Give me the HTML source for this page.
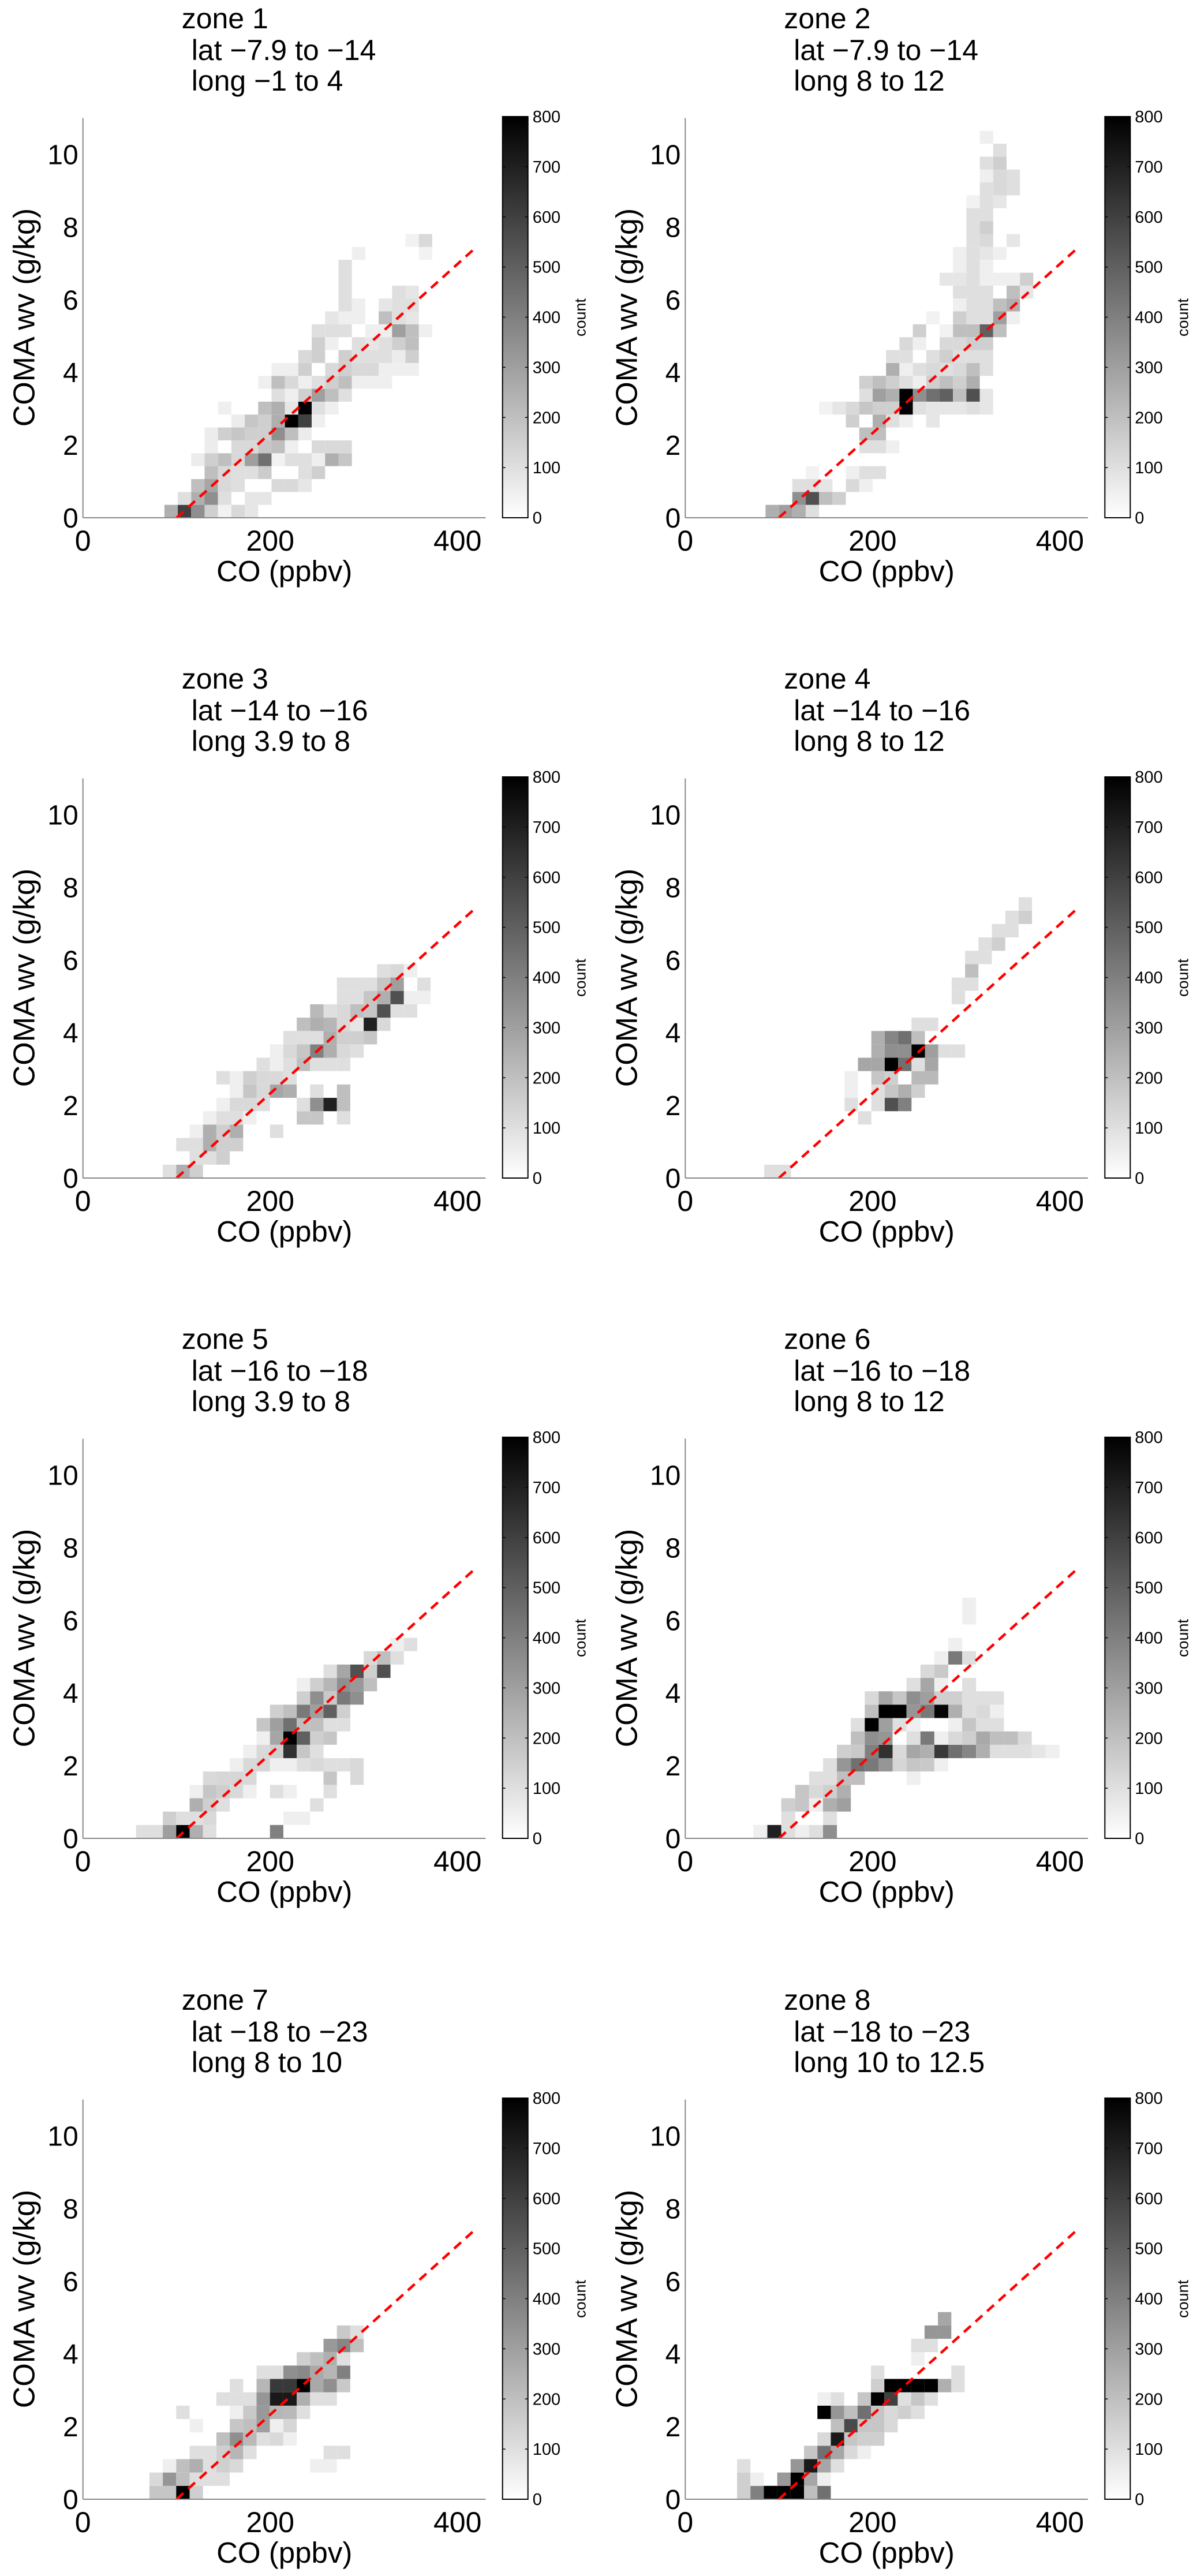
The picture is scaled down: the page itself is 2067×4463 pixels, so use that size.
<!DOCTYPE html>
<html><head><meta charset="utf-8"><title>COMA wv vs CO by zone</title>
<style>
html,body{margin:0;padding:0;background:#fff;}
svg{display:block;font-family:"Liberation Sans",Arial,sans-serif;}
</style></head>
<body>
<svg id="fig" width="2067" height="4463" viewBox="0 0 2067 4463" xmlns="http://www.w3.org/2000/svg">
<defs>
<linearGradient id="cbgrad" x1="0" y1="1" x2="0" y2="0">
<stop offset="0" stop-color="#ffffff"/><stop offset="1" stop-color="#000000"/>
</linearGradient>
</defs>
</svg>
<script>
// ---- data ----
const zoneTitles = ["zone 1","zone 2","zone 3","zone 4","zone 5","zone 6","zone 7","zone 8"];
const latLabels = ["lat \u22127.9 to \u221214","lat \u22127.9 to \u221214","lat \u221214 to \u221216","lat \u221214 to \u221216","lat \u221216 to \u221218","lat \u221216 to \u221218","lat \u221218 to \u221223","lat \u221218 to \u221223"];
const longLabels = ["long \u22121 to 4","long 8 to 12","long 3.9 to 8","long 8 to 12","long 3.9 to 8","long 8 to 12","long 8 to 10","long 10 to 12.5"];
const xTicks = [0,200,400];
const yTicks = [0,2,4,6,8,10];
const cbTicks = [0,100,200,300,400,500,600,700,800];
const binX0 = [87,85.7,85.3,84.3,85.3,72.8,85.3,83.9];
const binDX = [14.3,14.3,14.3,14.3,14.3,14.86,14.3,14.3];
const binDY = [0.355,0.355,0.368,0.368,0.368,0.368,0.368,0.368];
const fitLineX = [100,420];
const fitLineY = [0,7.45];
// cells: [column, row, count]
const zone1Cells = [[0,0,250],[1,0,600],[2,0,350],[3,0,150],[4,0,40],[5,0,120],[6,0,80],
[1,1,100],[2,1,250],[3,1,350],[4,1,100],[6,1,80],[7,1,80],
[2,2,200],[3,2,280],[4,2,120],[5,2,100],[8,2,120],[9,2,120],[10,2,80],
[3,3,200],[4,3,120],[5,3,100],[6,3,100],[7,3,160],[10,3,100],[11,3,150],
[2,4,60],[3,4,150],[4,4,200],[5,4,120],[6,4,300],[7,4,450],[8,4,40],[9,4,100],[10,4,100],[11,4,50],[12,4,250],[13,4,180],
[3,5,60],[5,5,120],[6,5,120],[7,5,180],[8,5,200],[9,5,50],[11,5,120],[12,5,120],[13,5,120],
[3,6,60],[4,6,150],[5,6,180],[6,6,150],[7,6,150],[8,6,350],[9,6,200],[10,6,60],
[5,7,60],[6,7,180],[7,7,150],[8,7,250],[9,7,800],[10,7,600],[11,7,50],
[4,8,50],[7,8,200],[8,8,250],[9,8,80],[10,8,800],[11,8,100],[12,8,50],
[8,9,100],[9,9,50],[10,9,150],[11,9,300],[12,9,200],[13,9,100],
[7,10,50],[8,10,200],[9,10,120],[10,10,50],[11,10,100],[12,10,150],[13,10,200],[14,10,50],[15,10,50],[16,10,50],
[8,11,50],[9,11,50],[10,11,150],[12,11,120],[13,11,150],[14,11,120],[15,11,120],[16,11,50],[17,11,50],[18,11,50],
[10,12,120],[11,12,150],[13,12,150],[14,12,100],[15,12,100],[16,12,100],[17,12,60],[18,12,150],
[11,13,150],[12,13,50],[14,13,100],[15,13,80],[16,13,100],[17,13,150],[18,13,200],
[11,14,100],[12,14,100],[13,14,100],[15,14,50],[16,14,50],[17,14,300],[18,14,200],[19,14,50],
[12,15,80],[13,15,50],[14,15,50],[16,15,200],[17,15,100],[18,15,80],
[13,16,100],[14,16,50],[16,16,80],[17,16,100],[18,16,100],
[13,17,100],[17,17,100],[18,17,80],[13,18,100],[13,19,100],[14,20,50],[19,20,40],[18,21,40],[19,21,120]];
const zone2Cells = [[0,0,250],[1,0,300],[2,0,250],[3,0,100],
[2,1,350],[3,1,550],[4,1,200],[5,1,150],
[2,2,100],[3,2,100],[4,2,80],[6,2,120],[7,2,50],
[3,3,40],[6,3,50],[7,3,100],[8,3,100],
[7,5,100],[8,5,100],[9,5,50],[7,6,200],[8,6,200],
[6,7,150],[8,7,250],[9,7,100],[10,7,50],[12,7,80],
[4,8,40],[5,8,80],[6,8,120],[7,8,180],[8,8,150],[9,8,150],[10,8,800],[11,8,100],[12,8,80],[13,8,80],[14,8,80],[15,8,100],[16,8,80],
[7,9,100],[8,9,300],[9,9,250],[10,9,800],[11,9,350],[12,9,450],[13,9,500],[14,9,200],[15,9,550],[16,9,80],
[7,10,150],[8,10,200],[9,10,150],[10,10,100],[11,10,50],[12,10,150],[13,10,200],[14,10,150],[15,10,250],
[9,11,250],[10,11,50],[11,11,100],[12,11,120],[13,11,100],[14,11,120],[15,11,200],[16,11,100],
[9,12,100],[10,12,100],[12,12,100],[13,12,150],[14,12,100],[15,12,100],[16,12,100],
[10,13,120],[11,13,50],[13,13,120],[14,13,120],[15,13,150],[16,13,150],
[11,14,150],[13,14,40],[14,14,200],[15,14,200],[16,14,500],[17,14,200],
[12,15,40],[14,15,150],[15,15,100],[16,15,100],[17,15,300],[18,15,50],
[14,16,50],[15,16,100],[16,16,100],[17,16,200],[18,16,250],
[14,17,100],[15,17,100],[16,17,100],[18,17,200],[19,17,80],
[13,18,80],[14,18,80],[15,18,100],[16,18,50],[17,18,50],[18,18,50],[19,18,150],
[14,19,50],[15,19,100],[16,19,50],[14,20,50],[15,20,100],[16,20,80],[17,20,50],
[15,21,100],[16,21,120],[18,21,80],[15,22,100],[16,22,150],[15,23,100],[16,23,100],
[15,24,40],[16,24,100],[17,24,80],[16,25,100],[17,25,120],[18,25,100],
[16,26,50],[17,26,120],[18,26,100],[16,27,100],[17,27,150],[17,28,100],[16,29,50]];
const zone3Cells = [[0,0,100],[1,0,250],[2,0,150],
[2,1,100],[3,1,100],[4,1,150],
[1,2,100],[2,2,100],[3,2,250],[4,2,150],[5,2,150],
[2,3,50],[3,3,250],[4,3,150],[5,3,250],[8,3,100],
[3,4,50],[4,4,100],[5,4,100],[6,4,50],[10,4,180],[11,4,180],[13,4,100],
[4,5,50],[5,5,120],[6,5,120],[7,5,100],[10,5,100],[11,5,350],[12,5,700],[13,5,200],
[5,6,50],[6,6,180],[7,6,120],[8,6,280],[9,6,250],[11,6,100],[13,6,200],
[4,7,100],[5,7,50],[6,7,150],[7,7,120],[8,7,120],[9,7,100],
[7,8,100],[8,8,50],[9,8,100],[10,8,200],[11,8,100],[12,8,100],[13,8,100],
[8,9,50],[9,9,120],[10,9,180],[11,9,400],[12,9,250],[13,9,120],[14,9,100],
[9,10,100],[10,10,100],[11,10,100],[12,10,250],[13,10,150],[14,10,150],[15,10,180],
[10,11,200],[11,11,250],[12,11,230],[13,11,120],[14,11,80],[15,11,700],[16,11,120],
[11,12,220],[12,12,100],[13,12,120],[14,12,200],[15,12,180],[16,12,550],[17,12,100],[18,12,100],
[13,13,100],[14,13,100],[15,13,180],[16,13,250],[17,13,550],[18,13,50],[19,13,50],
[13,14,100],[14,14,100],[15,14,100],[16,14,180],[17,14,300],[19,14,100],
[16,15,100],[17,15,120],[18,15,50]];
const zone4Cells = [[0,0,100],[1,0,100],[7,4,100],
[6,5,100],[8,5,100],[9,5,550],[10,5,400],
[6,6,50],[8,6,100],[9,6,180],[10,6,250],[11,6,150],
[6,7,50],[8,7,180],[9,7,150],[11,7,220],[12,7,220],
[7,8,280],[8,8,280],[9,8,800],[10,8,450],[11,8,100],[12,8,280],
[8,9,250],[9,9,350],[10,9,350],[11,9,800],[12,9,300],[13,9,100],[14,9,100],
[8,10,250],[9,10,380],[10,10,450],[11,10,200],
[11,11,100],[12,11,100],[14,13,100],[14,14,100],[15,14,100],[15,15,200],
[15,16,100],[16,16,100],[16,17,100],[17,17,150],[17,18,100],[18,18,100],
[18,19,100],[19,19,150],[19,20,100]];
const zone5Cells = [[-2,0,100],[-1,0,100],[0,0,300],[1,0,800],[2,0,250],[3,0,100],[8,0,400],
[0,1,150],[1,1,100],[2,1,100],[3,1,120],[9,1,50],[10,1,50],
[2,2,250],[3,2,150],[4,2,100],[11,2,100],
[2,3,50],[3,3,180],[4,3,150],[5,3,120],[6,3,50],[8,3,100],[9,3,50],[12,3,100],
[3,4,120],[4,4,130],[5,4,130],[6,4,120],[12,4,180],[14,4,120],
[5,5,50],[6,5,120],[7,5,130],[8,5,50],[9,5,50],[10,5,100],[11,5,120],[12,5,100],[13,5,100],[14,5,120],
[6,6,50],[7,6,120],[8,6,150],[9,6,650],[10,6,180],[11,6,100],
[7,7,50],[8,7,280],[9,7,800],[10,7,500],[11,7,150],[12,7,180],
[7,8,180],[8,8,300],[9,8,450],[10,8,200],[11,8,200],[12,8,100],[13,8,100],
[8,9,150],[9,9,200],[10,9,420],[11,9,300],[12,9,500],[13,9,150],
[10,10,150],[11,10,350],[12,10,170],[13,10,420],[14,10,350],
[10,11,50],[11,11,150],[12,11,230],[13,11,350],[14,11,320],[15,11,200],
[12,12,100],[13,12,280],[14,12,550],[15,12,150],[16,12,550],
[15,13,120],[16,13,200],[17,13,100],[17,14,50],[18,14,100]];
const zone6Cells = [[0,0,50],[1,0,700],[2,0,100],[3,0,50],[4,0,100],[5,0,350],
[2,1,100],[5,1,100],
[2,2,150],[3,2,180],[4,2,50],[5,2,250],[6,2,300],
[3,3,180],[4,3,120],[5,3,150],[6,3,250],
[4,4,100],[5,4,100],[6,4,200],[7,4,200],[11,4,50],
[5,5,100],[6,5,330],[7,5,450],[8,5,420],[9,5,330],[10,5,130],[11,5,180],[12,5,170],[13,5,50],
[6,6,150],[7,6,170],[8,6,400],[9,6,650],[10,6,120],[11,6,280],[12,6,250],[13,6,620],[14,6,450],[15,6,380],[16,6,250],[17,6,100],[18,6,100],[19,6,100],[20,6,80],[21,6,50],
[7,7,200],[8,7,350],[9,7,330],[11,7,100],[12,7,420],[13,7,50],[14,7,120],[15,7,150],[16,7,270],[17,7,200],[18,7,200],[19,7,120],
[7,8,100],[8,8,800],[9,8,300],[10,8,100],[11,8,50],[14,8,50],[15,8,180],[16,8,100],[17,8,100],
[8,9,200],[9,9,800],[10,9,800],[11,9,330],[12,9,420],[13,9,780],[14,9,250],[15,9,100],[16,9,120],[17,9,50],
[8,10,120],[9,10,280],[10,10,180],[11,10,350],[12,10,300],[13,10,150],[14,10,150],[15,10,100],[16,10,100],[17,10,100],
[11,11,100],[12,11,280],[13,11,50],[15,11,100],
[12,12,120],[13,12,170],[13,13,50],[14,13,420],[15,13,100],[14,14,50],[15,16,50],[15,17,50]];
const zone7Cells = [[-1,0,180],[0,0,180],[1,0,800],[2,0,150],
[-1,1,120],[0,1,330],[1,1,200],[2,1,100],[3,1,100],[4,1,100],
[0,2,50],[1,2,200],[2,2,250],[3,2,100],[4,2,150],[5,2,120],[11,2,50],[12,2,50],
[2,3,100],[3,3,100],[4,3,150],[5,3,230],[6,3,100],[12,3,100],[13,3,100],
[4,4,200],[5,4,350],[6,4,220],[7,4,100],[8,4,120],[9,4,50],
[2,5,50],[5,5,180],[6,5,200],[7,5,300],[8,5,50],[9,5,130],
[1,6,100],[5,6,50],[6,6,170],[7,6,320],[8,6,230],[9,6,220],[10,6,100],
[4,7,100],[5,7,100],[6,7,100],[7,7,330],[8,7,720],[9,7,720],[10,7,250],[11,7,100],[12,7,100],
[5,8,100],[7,8,230],[8,8,620],[9,8,620],[10,8,800],[11,8,270],[12,8,350],[13,8,170],
[7,9,100],[8,9,100],[9,9,350],[10,9,370],[11,9,270],[12,9,230],[13,9,400],
[10,10,150],[11,10,200],[12,10,250],[13,10,100],
[12,11,320],[13,11,380],[14,11,200],[13,12,170],[14,12,100]];
const zone8Cells = [[-2,0,150],[-1,0,400],[0,0,800],[1,0,800],[2,0,800],[3,0,200],[4,0,450],
[-2,1,150],[-1,1,50],[1,1,320],[2,1,800],[3,1,280],[4,1,50],
[-2,2,100],[2,2,330],[3,2,720],[4,2,280],[5,2,100],
[3,3,180],[4,3,450],[5,3,280],[6,3,120],[7,3,50],
[4,4,120],[5,4,720],[6,4,180],[7,4,150],[8,4,150],
[5,5,200],[6,5,570],[7,5,180],[8,5,180],[9,5,120],
[4,6,800],[5,6,330],[6,6,200],[7,6,450],[8,6,180],[9,6,120],[10,6,150],[11,6,100],
[4,7,50],[5,7,100],[7,7,180],[8,7,800],[9,7,600],[10,7,100],[11,7,180],[12,7,100],
[8,8,150],[9,8,800],[10,8,800],[11,8,800],[12,8,800],[13,8,250],[14,8,100],
[8,9,100],[14,9,100],[11,10,50],[11,11,100],[12,11,100],[12,12,330],[13,12,330],[13,13,280]];
const zoneCells = [zone1Cells,zone2Cells,zone3Cells,zone4Cells,zone5Cells,zone6Cells,zone7Cells,zone8Cells];

// ---- layout ----
const NS = "http://www.w3.org/2000/svg";
const svg = document.getElementById('fig');
const colX = [143.7, 1187.3];
const rowY = [897, 2041, 3185, 4330];
const PXX = 1.6225, PXY = 62.94;
const XMAX = 430, YMAX = 11, CMAX = 800;

function mk(tag, attrs, parent) {
  const e = document.createElementNS(NS, tag);
  for (const k in attrs) e.setAttribute(k, attrs[k]);
  (parent || svg).appendChild(e);
  return e;
}

for (let p = 0; p < 8; p++) {
  const ox = colX[p % 2], oy = rowY[Math.floor(p / 2)];
  const sx = v => ox + v * PXX;
  const sy = v => oy - v * PXY;
  const g = mk('g', {});
  
  

  const tt = mk('text', {x: ox + 171, y: oy - 848, 'font-size': 50, fill: '#000'}, g);
  tt.textContent = zoneTitles[p];
  
  
  const t2 = mk('text', {x: ox + 188, y: oy - 793, 'font-size': 50, fill: '#000'}, g);
  t2.textContent = latLabels[p];
  
  
  const t3 = mk('text', {x: ox + 188, y: oy - 740, 'font-size': 50, fill: '#000'}, g);
  t3.textContent = longLabels[p];
  
  

  const cells = zoneCells[p];
  const cg = mk('g', {}, g);
  
  
  for (const c of cells) {
    const x0 = binX0[p] + c[0] * binDX[p];
    const x1 = x0 + binDX[p];
    const y0 = c[1] * binDY[p], y1 = y0 + binDY[p];
    const xa = Math.max(sx(x0), ox);
    const gv = Math.round(255 * (1 - Math.min(c[2], CMAX) / CMAX));
    const r = mk('rect', {x: xa, y: sy(y1), width: sx(x1) - xa, height: sy(y0) - sy(y1), fill: `rgb(${gv},${gv},${gv})`}, cg);
    
    
  }

  const fl = mk('line', {x1: sx(fitLineX[0]), y1: sy(fitLineY[0]), x2: sx(fitLineX[1]), y2: sy(fitLineY[1]), stroke: '#ff0000', 'stroke-width': 4.5, 'stroke-dasharray': '16 11'}, g);
  
  

  const ax = mk('line', {x1: ox, y1: oy, x2: sx(XMAX), y2: oy, stroke: '#888', 'stroke-width': 2}, g);
  
  
  const ay = mk('line', {x1: ox, y1: oy, x2: ox, y2: sy(YMAX), stroke: '#888', 'stroke-width': 2}, g);
  
  

  for (const t of xTicks) {
    const tl = mk('text', {x: sx(t), y: oy + 57, 'font-size': 50, 'text-anchor': 'middle', fill: '#000'}, g);
    tl.textContent = t;
    
    
  }
  for (const t of yTicks) {
    const tl = mk('text', {x: ox - 8, y: sy(t) + 17, 'font-size': 48, 'text-anchor': 'end', fill: '#000'}, g);
    tl.textContent = t;
    
    
  }
  const xl = mk('text', {x: ox + 349, y: oy + 110, 'font-size': 51, 'text-anchor': 'middle', fill: '#000'}, g);
  xl.textContent = 'CO (ppbv)';
  
  
  const yl = mk('text', {x: 0, y: 0, 'font-size': 52, 'text-anchor': 'middle', fill: '#000', transform: `translate(${ox - 84},${oy - 347}) rotate(-90)`}, g);
  yl.textContent = 'COMA wv (g/kg)';
  
  

  const cbx = ox + 727, cbw = 44, cbTop = oy - 695, cbH = 695;
  const cb = mk('rect', {x: cbx, y: cbTop, width: cbw, height: cbH, fill: 'url(#cbgrad)', stroke: '#000', 'stroke-width': 2}, g);
  
  
  for (const t of cbTicks) {
    const yy = oy - t / CMAX * cbH;
    mk('line', {x1: cbx, y1: yy, x2: cbx + 5, y2: yy, stroke: '#000', 'stroke-width': 1.5}, g);
    mk('line', {x1: cbx + cbw - 5, y1: yy, x2: cbx + cbw, y2: yy, stroke: '#000', 'stroke-width': 1.5}, g);
    const cl = mk('text', {x: cbx + 52, y: yy + 10, 'font-size': 29, fill: '#000'}, g);
    cl.textContent = t;
    
    
  }
  const cnt = mk('text', {x: 0, y: 0, 'font-size': 27, 'text-anchor': 'middle', fill: '#000', transform: `translate(${cbx + 144},${oy - 347}) rotate(-90)`}, g);
  cnt.textContent = 'count';
  
  
}
</script>
</body></html>
